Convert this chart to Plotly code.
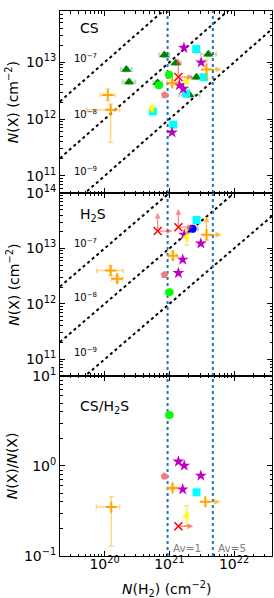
import numpy as np
import plotly.graph_objects as go
from plotly.subplots import make_subplots

# ---------------- data ----------------
NH2_AV1 = 9.4e20
NH2_AV5 = 4.7e21
abund = [1e-7, 1e-8, 1e-9]
abund_labels = ["10<sup>−7</sup>", "10<sup>−8</sup>", "10<sup>−9</sup>"]

# dark-green triangles (CS only)
tri_cs_x = [8.4e20, 1.26e21, 2.17e20, 2.39e20, 6.6e20, 2.63e21, 4.0e21, 2.04e21]
tri_cs_y = [1.34e13, 9.7e12, 7.5e12, 4.5e12, 4.35e12, 5.45e12, 1.38e13, 2.66e12]
tri_cs_xerr = [0.08, 0.08, 0.085, 0.10, 0.07, 0.08, 0.12, 0.16]
tri_cs_yerr = [0.04, 0.04, 0.04, 0.04, 0.04, 0.04, 0.04, 0.04]

# lime circles
lime_cs_x = [9.9e20, 6.9e20]
lime_cs_y = [6.05e12, 3.96e12]
lime_h2s_x = [1.0e21]
lime_h2s_y = [1.62e12]
lime_ratio_x = [1.0e21]
lime_ratio_y = [3.68]

# cyan squares
cyan_cs_x = [2.6e21, 3.41e21, 1.81e21, 5.57e20, 1.15e21]
cyan_cs_y = [1.71e13, 5.45e12, 2.82e12, 1.36e12, 8.0e11]
cyan_h2s_x = [2.63e21]
cyan_h2s_y = [3.27e13]
cyan_ratio_x = [2.63e21]
cyan_ratio_y = [0.51]

# magenta stars
star_cs_x = [1.68e21, 3.1e21, 1.43e21, 1.64e21, 1.10e21]
star_cs_y = [1.80e13, 9.95e12, 3.96e12, 3.42e12, 5.83e11]
star_h2s_x = [1.70e21, 3.07e21, 1.61e21, 1.38e21]
star_h2s_y = [1.77e13, 1.23e13, 6.3e12, 3.6e12]
star_ratio_x = [1.38e21, 1.70e21, 3.07e21, 1.61e21]
star_ratio_y = [1.12, 1.01, 0.78, 0.55]

# light-coral pentagons
pink_cs_x = [8.5e20]
pink_cs_y = [2.66e12]
pink_h2s_x = [8.4e20]
pink_h2s_y = [3.36e12]
pink_ratio_x = [8.4e20]
pink_ratio_y = [0.77]

# yellow left triangles
yel_cs_x = [5.4e20, 1.85e21]
yel_cs_y = [1.54e12, 4.75e12]
yel_cs_yerr = [0.04, 0.05]
yel_h2s_x = [1.85e21]
yel_h2s_y = [1.61e13]
yel_h2s_yerr = [0.15]
yel_ratio_x = [1.85e21]
yel_ratio_y = [0.28]
yel_ratio_yerr = [0.11]

# orange plus
or_cs_x = [1.12e20, 1.24e20, 1.11e21, 3.75e21]
or_cs_y = [2.66e12, 1.46e12, 4.35e12, 7.5e12]
or_cs_xerr_m = [0.115, 0.37, 0.08, 0.0]
or_cs_xerr_p = [0.115, 0.14, 0.08, 0.0]
or_cs_yerr_m = [0.10, 0.575, 0.04, 0.17]
or_cs_yerr_p = [0.11, 0.10, 0.04, 0.17]
or_cs_right = [False, False, False, True]
or_cs_up = [False, False, False, False]

or_h2s_x = [1.13e21, 1.24e20, 1.57e20, 3.75e21]
or_h2s_y = [7.4e12, 4.0e12, 2.85e12, 1.77e13]
or_h2s_xerr_m = [0.06, 0.215, 0.09, 0.0]
or_h2s_xerr_p = [0.06, 0.195, 0.09, 0.0]
or_h2s_yerr_m = [0.06, 0.09, 0.05, 0.10]
or_h2s_yerr_p = [0.06, 0.09, 0.05, 0.0]
or_h2s_right = [False, False, False, True]
or_h2s_up = [False, False, False, True]

or_ratio_x = [1.12e21, 1.27e20, 3.6e21]
or_ratio_y = [0.57, 0.35, 0.40]
or_ratio_xerr_m = [0.07, 0.23, 0.0]
or_ratio_xerr_p = [0.07, 0.13, 0.0]
or_ratio_yerr_m = [0.02, 0.434, 0.0]
or_ratio_yerr_p = [0.02, 0.115, 0.0]
or_ratio_right = [False, False, True]
or_ratio_up = [False, False, False]

# red crosses (limits)
red_cs_x = [1.38e21]
red_cs_y = [5.5e12]
red_h2s_x = [6.6e20, 1.38e21]
red_h2s_y = [2.06e13, 2.42e13]
red_ratio_x = [1.38e21]
red_ratio_y = [0.214]

# blue circle (H2S only)
blue_h2s_x = [2.29e21]
blue_h2s_y = [2.26e13]

# axis ranges
x_range = [2.05e19, 3.85e22]
y1_range = [5e10, 8e13]
y2_range = [5e10, 1e14]
y3_range = [0.1, 10]

# ---------------- figure ----------------
FONT = "DejaVu Sans"
W, H = 274, 598
ML, MR, MT, MB = 60, 1, 2, 42

fig = make_subplots(rows=3, cols=1, shared_xaxes=True, vertical_spacing=0)


def dex_err(vals, dm, dp):
    v = np.asarray(vals, float)
    return (v * (10 ** np.asarray(dp, float) - 1)).tolist(), (v * (1 - 10 ** (-np.asarray(dm, float)))).tolist()


def add_pts(row, x, y, symbol, color, size, errcolor, xm=None, xp=None, ym=None, yp=None,
            line_color=None, line_width=0, cap=2.5):
    tr = dict(x=x, y=y, mode="markers", showlegend=False, hoverinfo="skip",
              marker=dict(symbol=symbol, color=color, size=size,
                          line=dict(color=line_color or color, width=line_width)))
    if xm is not None:
        p, m = dex_err(x, xm, xp)
        tr["error_x"] = dict(type="data", array=p, arrayminus=m, symmetric=False,
                             color=errcolor, thickness=1.5, width=cap)
    if ym is not None:
        p, m = dex_err(y, ym, yp)
        tr["error_y"] = dict(type="data", array=p, arrayminus=m, symmetric=False,
                             color=errcolor, thickness=1.5, width=cap)
    fig.add_trace(go.Scatter(**tr), row=row, col=1)


# abundance diagonal lines
xl = np.array(x_range)
for row in (1, 2):
    for a in abund:
        fig.add_trace(go.Scatter(x=xl, y=a * xl, mode="lines", showlegend=False, hoverinfo="skip",
                                 line=dict(color="black", width=2, dash="dot")), row=row, col=1)

# Av vertical lines
yr = {1: y1_range, 2: y2_range, 3: y3_range}
for row in (1, 2, 3):
    for v in (NH2_AV1, NH2_AV5):
        fig.add_trace(go.Scatter(x=[v, v], y=yr[row], mode="lines", showlegend=False, hoverinfo="skip",
                                 line=dict(color="#1f77b4", width=2, dash="dot")), row=row, col=1)

G_ERR = "rgba(0,128,0,0.30)"
L_ERR = "rgba(0,200,0,0.35)"
O_ERR = "rgba(255,165,0,0.45)"
Y_ERR = "rgba(255,215,0,0.6)"
B_ERR = "rgba(0,0,255,0.3)"

# ---- panel 1: CS
add_pts(1, tri_cs_x, tri_cs_y, "triangle-up", "green", 9, G_ERR, tri_cs_xerr, tri_cs_xerr, tri_cs_yerr, tri_cs_yerr)
add_pts(1, lime_cs_x, lime_cs_y, "circle", "lime", 8, L_ERR, [0.05, 0.05], [0.05, 0.05], [0.04, 0.04], [0.04, 0.04])
add_pts(1, cyan_cs_x, cyan_cs_y, "square", "cyan", 8, "rgba(0,255,255,0.3)")
add_pts(1, star_cs_x, star_cs_y, "star", "#bf00bf", 9, "rgba(191,0,191,0.3)")
add_pts(1, pink_cs_x, pink_cs_y, "pentagon", "lightcoral", 8, "rgba(240,128,128,0.3)")
add_pts(1, yel_cs_x, yel_cs_y, "triangle-left", "yellow", 8, Y_ERR, None, None, yel_cs_yerr, yel_cs_yerr)
add_pts(1, or_cs_x, or_cs_y, "cross-thin", "orange", 8, O_ERR, or_cs_xerr_m, or_cs_xerr_p, or_cs_yerr_m, or_cs_yerr_p,
        line_color="orange", line_width=2)
add_pts(1, red_cs_x, red_cs_y, "x-thin", "red", 8, "rgba(255,0,0,0.4)", line_color="red", line_width=1.5)

# ---- panel 2: H2S
add_pts(2, red_h2s_x, red_h2s_y, "x-thin", "red", 8, "rgba(255,0,0,0.4)", line_color="red", line_width=1.5)
add_pts(2, cyan_h2s_x, cyan_h2s_y, "square", "cyan", 8, "rgba(0,255,255,0.3)")
add_pts(2, blue_h2s_x, blue_h2s_y, "circle", "blue", 8, B_ERR, [0.08], [0.08], [0.06], [0.06])
add_pts(2, star_h2s_x, star_h2s_y, "star", "#bf00bf", 9, "rgba(191,0,191,0.3)")
add_pts(2, pink_h2s_x, pink_h2s_y, "pentagon", "lightcoral", 8, "rgba(240,128,128,0.3)")
add_pts(2, yel_h2s_x, yel_h2s_y, "triangle-left", "yellow", 8, Y_ERR, None, None, yel_h2s_yerr, yel_h2s_yerr)
add_pts(2, or_h2s_x, or_h2s_y, "cross-thin", "orange", 8, O_ERR, or_h2s_xerr_m, or_h2s_xerr_p, or_h2s_yerr_m, or_h2s_yerr_p,
        line_color="orange", line_width=2)
add_pts(2, lime_h2s_x, lime_h2s_y, "circle", "lime", 8, L_ERR, [0.06], [0.06], [0.03], [0.03])

# ---- panel 3: ratio
add_pts(3, lime_ratio_x, lime_ratio_y, "circle", "lime", 8, L_ERR, [0.06], [0.06], [0.03], [0.03])
add_pts(3, star_ratio_x, star_ratio_y, "star", "#bf00bf", 9, "rgba(191,0,191,0.3)")
add_pts(3, pink_ratio_x, pink_ratio_y, "pentagon", "lightcoral", 8, "rgba(240,128,128,0.3)")
add_pts(3, cyan_ratio_x, cyan_ratio_y, "square", "cyan", 8, "rgba(0,255,255,0.3)")
add_pts(3, or_ratio_x, or_ratio_y, "cross-thin", "orange", 8, O_ERR, or_ratio_xerr_m, or_ratio_xerr_p,
        or_ratio_yerr_m, or_ratio_yerr_p, line_color="orange", line_width=2)
add_pts(3, yel_ratio_x, yel_ratio_y, "triangle-left", "yellow", 8, Y_ERR, None, None, yel_ratio_yerr, yel_ratio_yerr)
add_pts(3, red_ratio_x, red_ratio_y, "x-thin", "red", 8, "rgba(255,0,0,0.4)", line_color="red", line_width=1.5)

# ---- limit arrows
RIGHT_DEX = 0.23
UP_DEX = 0.33
annots = []


def arrow(row, x, y, direction, color):
    ax = "x" if row == 1 else f"x{row}"
    ay = "y" if row == 1 else f"y{row}"
    lx, ly = np.log10(x), np.log10(y)
    hx, hy = (lx + RIGHT_DEX, ly) if direction == "right" else (lx, ly + UP_DEX)
    annots.append(dict(x=hx, y=hy, ax=lx, ay=ly, xref=ax, yref=ay, axref=ax, ayref=ay,
                       showarrow=True, arrowhead=2, arrowsize=0.9, arrowwidth=1.3,
                       arrowcolor=color, text=""))


RED_A = "rgba(255,60,60,0.6)"
ORA_A = "rgba(255,165,0,0.7)"
for x, y in zip(red_cs_x, red_cs_y):
    arrow(1, x, y, "up", RED_A)
    arrow(1, x, y, "right", RED_A)
for x, y in zip(red_h2s_x, red_h2s_y):
    arrow(2, x, y, "up", RED_A)
    arrow(2, x, y, "right", RED_A)
for x, y in zip(red_ratio_x, red_ratio_y):
    arrow(3, x, y, "right", RED_A)
for row, xs, ys, rs, us in ((1, or_cs_x, or_cs_y, or_cs_right, or_cs_up),
                            (2, or_h2s_x, or_h2s_y, or_h2s_right, or_h2s_up),
                            (3, or_ratio_x, or_ratio_y, or_ratio_right, or_ratio_up)):
    for x, y, r, u in zip(xs, ys, rs, us):
        if r:
            arrow(row, x, y, "right", ORA_A)
        if u:
            arrow(row, x, y, "up", ORA_A)

# panel titles
annots += [
    dict(text="CS", xref="x domain", yref="y domain", x=0.085, y=0.905, xanchor="left", yanchor="middle",
         showarrow=False, font=dict(size=14, color="black", family=FONT)),
    dict(text="H<sub>2</sub>S", xref="x2 domain", yref="y2 domain", x=0.085, y=0.88, xanchor="left",
         yanchor="middle", showarrow=False, font=dict(size=14, color="black", family=FONT)),
    dict(text="CS/H<sub>2</sub>S", xref="x3 domain", yref="y3 domain", x=0.085, y=0.83, xanchor="left",
         yanchor="middle", showarrow=False, font=dict(size=14, color="black", family=FONT)),
]
# abundance labels
for yr_, ys in (("y domain", [0.741, 0.432, 0.119]), ("y2 domain", [0.726, 0.43, 0.129])):
    xr = "x domain" if yr_ == "y domain" else "x2 domain"
    for lab, yy in zip(abund_labels, ys):
        annots.append(dict(text=lab, xref=xr, yref=yr_, x=0.058, y=yy, xanchor="left", yanchor="middle",
                           showarrow=False, font=dict(size=10, color="black", family=FONT)))
# Av labels
for v, lab in ((NH2_AV1, "Av=1"), (NH2_AV5, "Av=5")):
    annots.append(dict(text=lab, xref="x3", yref="y3 domain", x=np.log10(v), y=0.045, xshift=3,
                       xanchor="left", yanchor="middle", showarrow=False,
                       font=dict(size=10.5, color="gray", family=FONT)))
# y titles
plot_w = W - ML - MR
for yc, txt in ((0.833, "<i>N</i>(X) (cm<sup>−2</sup>)"), (0.498, "<i>N</i>(X) (cm<sup>−2</sup>)"),
                (0.165, "<i>N</i>(X)/<i>N</i>(X)")):
    annots.append(dict(text=txt, xref="paper", yref="paper", x=(12 - ML) / plot_w, y=yc, textangle=-90,
                       xanchor="center", yanchor="middle", showarrow=False,
                       font=dict(size=14, color="black", family=FONT)))
# x title
annots.append(dict(text="<i>N</i>(H<sub>2</sub>) (cm<sup>−2</sup>)", xref="paper", yref="paper", x=0.5,
                   y=-(590 - (H - MB)) / (H - MT - MB), xanchor="center", yanchor="middle", showarrow=False,
                   font=dict(size=14, color="black", family=FONT)))

fig.update_layout(annotations=annots)


def minor_vals(lo, hi):
    out = []
    for n in range(int(np.floor(np.log10(lo))) - 1, int(np.ceil(np.log10(hi))) + 1):
        for k in range(2, 10):
            v = k * 10.0 ** n
            if lo <= v <= hi:
                out.append(v)
    return out


def major_vals(lo, hi):
    out = []
    for n in range(int(np.floor(np.log10(lo))) - 1, int(np.ceil(np.log10(hi))) + 1):
        v = 10.0 ** n
        if lo * 0.999 <= v <= hi * 1.001:
            out.append(n)
    return out


def sup(n):
    s = str(n).replace("-", "−")
    return f"10<sup>{s}</sup>"


common = dict(type="log", showline=True, linecolor="black", linewidth=1, mirror="allticks",
              ticks="inside", ticklen=5, tickwidth=1, tickcolor="black", showgrid=False, zeroline=False,
              tickfont=dict(size=14, color="black", family=FONT))

xmaj = major_vals(*x_range)
for i, ax in enumerate(("xaxis", "xaxis2", "xaxis3")):
    fig.update_layout({ax: dict(common, range=[np.log10(x_range[0]), np.log10(x_range[1])],
                                tickmode="array", tickvals=[10.0 ** n for n in xmaj],
                                ticktext=[sup(n) for n in xmaj], showticklabels=(i == 2),
                                ticklabelstandoff=-5,
                                minor=dict(ticks="inside", ticklen=2.5, tickwidth=0.8, tickcolor="black",
                                           tickmode="array", tickvals=minor_vals(*x_range)))})

doms = {"yaxis": [0.666, 1.0], "yaxis2": [0.3303, 0.666], "yaxis3": [0.0, 0.3303]}
for ax, rng in (("yaxis", y1_range), ("yaxis2", y2_range), ("yaxis3", y3_range)):
    maj = major_vals(*rng)
    fig.update_layout({ax: dict(common, domain=doms[ax], range=[np.log10(rng[0]), np.log10(rng[1])],
                                tickmode="array", tickvals=[10.0 ** n for n in maj],
                                ticktext=[sup(n) for n in maj],
                                minor=dict(ticks="inside", ticklen=2.5, tickwidth=0.8, tickcolor="black",
                                           tickmode="array", tickvals=minor_vals(*rng)))})

fig.update_layout(width=W, height=H, margin=dict(l=ML, r=MR, t=MT, b=MB),
                  plot_bgcolor="white", paper_bgcolor="white",
                  font=dict(family=FONT, color="black"))

fig.write_html("out.html", config={"displayModeBar": False},
               post_script="document.body.style.margin='0';")
